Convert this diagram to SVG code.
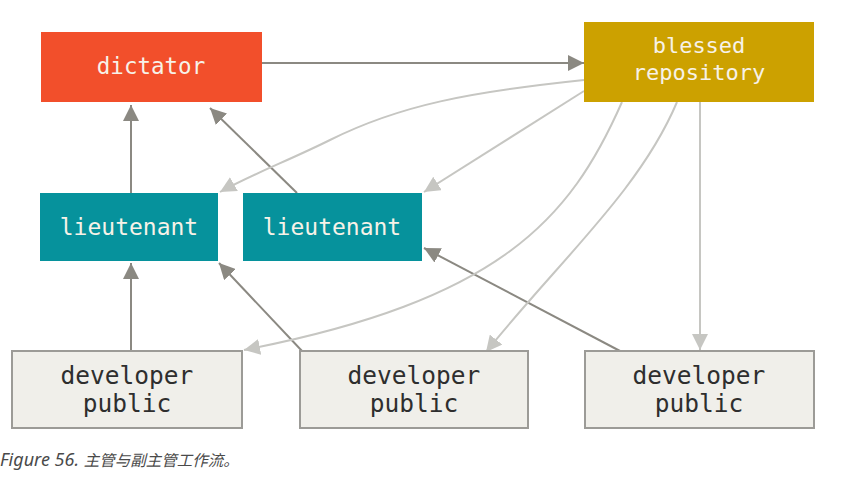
<svg xmlns="http://www.w3.org/2000/svg" width="858" height="480" viewBox="0 0 858 480">
<style>
.lbl{font-family:"DejaVu Sans Mono","Liberation Mono",monospace;text-anchor:middle;fill:#f7f2e8}
.dev rect{fill:#f0efea;stroke:#9c9b97;stroke-width:2}
.dev text{font-family:"DejaVu Sans Mono","Liberation Mono",monospace;text-anchor:middle;fill:#2e2e2e;font-size:24.5px}
.dk{stroke:#8b8982;stroke-width:2;fill:none}
.lt{stroke:#c6c6c2;stroke-width:2;fill:none}
.cap{font-family:"Noto Sans","Noto Sans CJK SC",sans-serif;font-style:italic;fill:#4a4a4a}
</style>
<defs>
<marker id="ad" viewBox="0 0 16 16" refX="16" refY="8" markerWidth="16" markerHeight="16" markerUnits="userSpaceOnUse" orient="auto"><path d="M0,0 L16,8 L0,16 Z" fill="#8b8982"/></marker>
<marker id="al" viewBox="0 0 16 16" refX="16" refY="8" markerWidth="16" markerHeight="16" markerUnits="userSpaceOnUse" orient="auto"><path d="M0,0 L16,8 L0,16 Z" fill="#c6c6c2"/></marker>
</defs>
<g id="connectors">
<path class="dk" d="M262,63 L584,63" marker-end="url(#ad)"/>
<path class="dk" d="M131,193 L131,105" marker-end="url(#ad)"/>
<path class="dk" d="M297,193 L210,108" marker-end="url(#ad)"/>
<path class="dk" d="M131,351 L131,263" marker-end="url(#ad)"/>
<path class="dk" d="M302,351 L219,263" marker-end="url(#ad)"/>
<path class="dk" d="M620,351 L424,248" marker-end="url(#ad)"/>
<path class="lt" d="M584,80 C470,92 400,105 330,140 C290,160 250,175 220,192" marker-end="url(#al)"/>
<path class="lt" d="M584,91 L424,192" marker-end="url(#al)"/>
<path class="lt" d="M622,102 C570,220 500,300 244,350" marker-end="url(#al)"/>
<path class="lt" d="M677,102 C640,190 560,260 486,352" marker-end="url(#al)"/>
<path class="lt" d="M700,102 L700,350" marker-end="url(#al)"/>
</g>
<g id="dictator"><rect x="41" y="32" width="221" height="70" fill="#f24f2b"/><text class="lbl" x="151" y="74" font-size="22.5">dictator</text></g>
<g id="blessed"><rect x="584" y="22" width="230" height="80" fill="#cca100"/><text class="lbl" x="699" y="53" font-size="22">blessed</text><text class="lbl" x="699" y="80" font-size="22">repository</text></g>
<g id="lieutenant1"><rect x="40" y="193" width="178" height="68" fill="#06929c"/><text class="lbl" x="129" y="235" font-size="23">lieutenant</text></g>
<g id="lieutenant2"><rect x="243" y="193" width="179" height="68" fill="#06929c"/><text class="lbl" x="332" y="235" font-size="23">lieutenant</text></g>
<g id="developer1" class="dev"><rect x="12" y="351" width="230" height="77"/><text x="127" y="384">developer</text><text x="127" y="412">public</text></g>
<g id="developer2" class="dev"><rect x="300" y="351" width="228" height="77"/><text x="414" y="384">developer</text><text x="414" y="412">public</text></g>
<g id="developer3" class="dev"><rect x="585" y="351" width="229" height="77"/><text x="699" y="384">developer</text><text x="699" y="412">public</text></g>
<text class="cap" x="0" y="466"><tspan font-size="18">Figure 56. </tspan><tspan font-size="15.5">主管与副主管工作流。</tspan></text>
</svg>
